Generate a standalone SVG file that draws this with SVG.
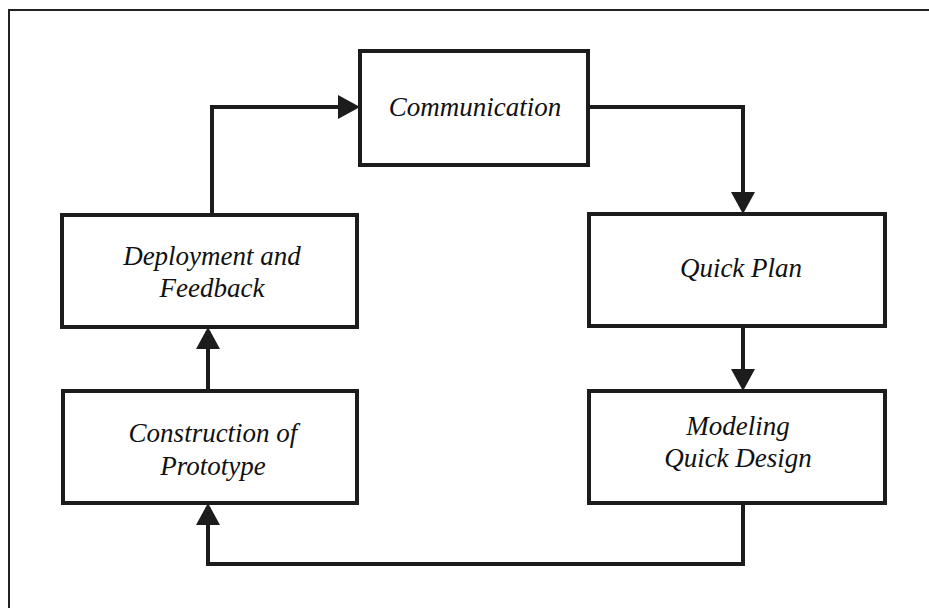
<svg xmlns="http://www.w3.org/2000/svg" width="929" height="608" viewBox="0 0 929 608">
<style>
.box{fill:#fff;stroke:#1c1c1c;stroke-width:4}
.lbl{font-family:"Liberation Serif","Times New Roman",serif;font-style:italic;font-size:27px;fill:#111;text-anchor:middle}
.con{fill:none;stroke:#1c1c1c;stroke-width:4}
.frame{fill:none;stroke:#222;stroke-width:2}
</style>
<defs>
<marker id="ah" markerUnits="userSpaceOnUse" markerWidth="22" markerHeight="24" refX="0" refY="12" orient="auto" viewBox="0 0 22 24">
<path d="M0,0 L22,12 L0,24 z" fill="#1c1c1c"/>
</marker>
</defs>
<rect width="929" height="608" fill="#fff"/>
<path class="frame" d="M9,608 L9,10 L929,10"/>
<g id="connectors">
<path class="con" d="M212,215 L212,107 L338,107" marker-end="url(#ah)"/>
<path class="con" d="M588,107 L743,107 L743,192" marker-end="url(#ah)"/>
<path class="con" d="M743,326 L743,369" marker-end="url(#ah)"/>
<path class="con" d="M743,503 L743,564 L208,564 L208,525" marker-end="url(#ah)"/>
<path class="con" d="M208,391 L208,349" marker-end="url(#ah)"/>
</g>
<g id="communication">
<rect class="box" x="360" y="51" width="228" height="114"/>
<text class="lbl" x="475" y="116">Communication</text>
</g>
<g id="quick-plan">
<rect class="box" x="589" y="214" width="296" height="112"/>
<text class="lbl" x="741" y="277">Quick Plan</text>
</g>
<g id="modeling-quick-design">
<rect class="box" x="589" y="391" width="296" height="112"/>
<text class="lbl" x="738" y="435">Modeling</text>
<text class="lbl" x="738" y="467">Quick Design</text>
</g>
<g id="construction-of-prototype">
<rect class="box" x="63" y="391" width="294" height="112"/>
<text class="lbl" x="213" y="442">Construction of</text>
<text class="lbl" x="213" y="475">Prototype</text>
</g>
<g id="deployment-and-feedback">
<rect class="box" x="62" y="215" width="295" height="112"/>
<text class="lbl" x="212" y="265">Deployment and</text>
<text class="lbl" x="212" y="297">Feedback</text>
</g>
</svg>
